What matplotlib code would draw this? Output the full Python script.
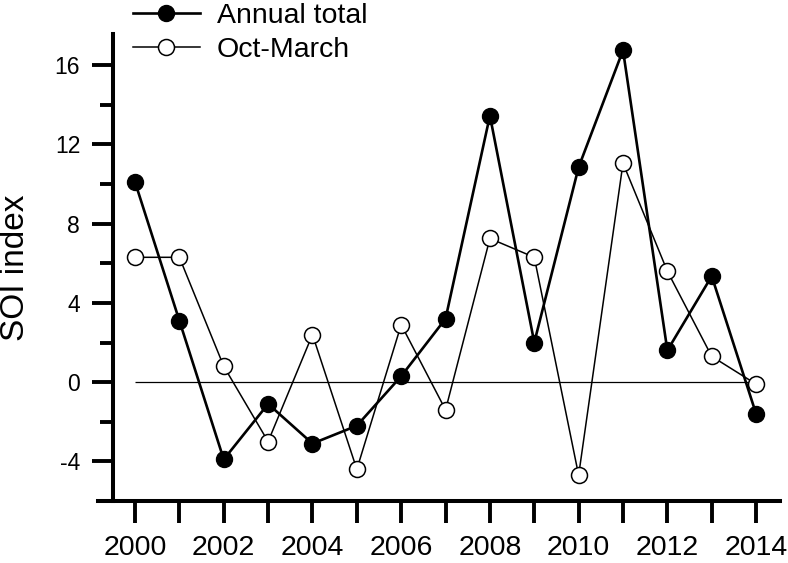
import matplotlib
matplotlib.use('Agg')
import matplotlib.pyplot as plt
from matplotlib.ticker import MultipleLocator

plt.rcParams['font.family'] = ['Liberation Sans', 'DejaVu Sans']
plt.rcParams['axes.unicode_minus'] = False

# SOI values
years = [2000, 2001, 2002, 2003, 2004, 2005, 2006, 2007,
         2008, 2009, 2010, 2011, 2012, 2013, 2014]
annual_total = [10.1, 3.1, -3.9, -1.1, -3.1, -2.2, 0.3, 3.2,
                13.45, 2.0, 10.85, 16.75, 1.6, 5.35, -1.6]
oct_march = [6.3, 6.3, 0.8, -3.0, 2.4, -4.4, 2.9, -1.4,
             7.25, 6.3, -4.7, 11.05, 5.6, 1.3, -0.1]

fig = plt.figure(figsize=(7.88, 5.63), dpi=100)
ax = fig.add_axes([0.1244, 0.1101, 0.8655, 0.8295])

# zero reference line
ax.hlines(0, years[0], years[-1], color='black', lw=0.9, zorder=1)

ax.plot(years, annual_total, color='black', lw=1.9, marker='o', ms=11.5,
        mfc='black', mec='black', mew=1.0, label='Annual total', zorder=3)
ax.plot(years, oct_march, color='black', lw=1.1, marker='o', ms=11.5,
        mfc='white', mec='black', mew=1.1, label='Oct-March', zorder=4)

ax.set_xlim(1999.166, 2014.54)
ax.set_ylim(-6, 17.57)

# axes look
for s in ['top', 'right']:
    ax.spines[s].set_visible(False)
ax.spines['left'].set_position(('data', 1999.5))
ax.spines['left'].set_linewidth(2.9)
ax.spines['bottom'].set_linewidth(2.9)

ax.xaxis.set_major_locator(MultipleLocator(2))
ax.xaxis.set_minor_locator(MultipleLocator(1))
ax.yaxis.set_major_locator(MultipleLocator(4))
ax.yaxis.set_minor_locator(MultipleLocator(2))

ax.tick_params(axis='x', which='both', direction='out', length=15.5, width=2.8)
ax.tick_params(axis='x', which='major', labelsize=20.5, pad=9)
ax.tick_params(axis='y', which='major', direction='out', length=15, width=2.8,
               labelsize=16.5, pad=8.5)
ax.tick_params(axis='y', which='minor', direction='out', length=9.4, width=2.8)

ax.set_ylabel('SOI index', fontsize=24)
ax.yaxis.label.set_verticalalignment('center')
ax.yaxis.set_label_coords(-0.1217, 0.499)

ax.legend(loc='upper left', bbox_to_anchor=(0.1688, 0.9946),
          bbox_transform=fig.transFigure, frameon=False, fontsize=20.5,
          borderpad=0, borderaxespad=0, handlelength=2.35,
          handletextpad=0.6, labelspacing=0.28)

fig.savefig('out.png', dpi=100)
